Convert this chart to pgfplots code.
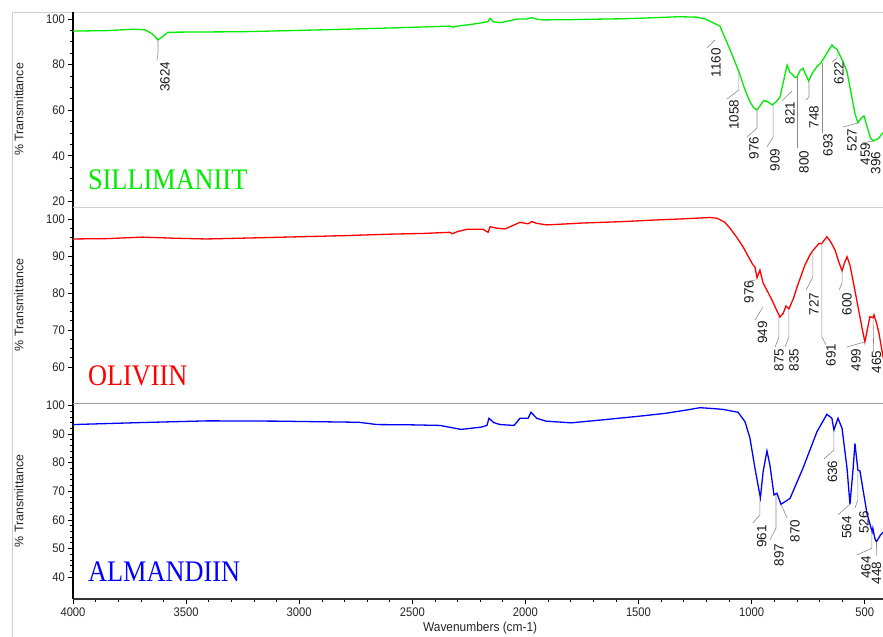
\documentclass[border=0pt]{standalone}
\usepackage{fontspec}
\setmainfont{Liberation Sans}
\newfontfamily\namefont{Liberation Serif}
\usepackage{pgfplots}
\pgfplotsset{compat=1.18}

\definecolor{silgreen}{RGB}{0,235,0}
\definecolor{olired}{RGB}{255,0,0}
\definecolor{almblue}{RGB}{0,0,255}
\definecolor{framegray}{RGB}{210,210,210}
\definecolor{sepgray}{RGB}{160,160,160}
\definecolor{leadgray}{RGB}{140,140,140}

\tikzset{
  peak/.style={rotate=90, font=\fontsize{13.5}{13.5}\selectfont, inner sep=0pt, text=black!90},
  lead/.style={draw=leadgray, line width=0.6bp},
  sample/.style={anchor=base west, inner sep=0pt, xscale=0.88,
    font=\namefont\fontsize{30}{30}\selectfont},
}

\pgfplotsset{
  irpanel/.style={
    scale only axis,
    width=814.3bp,
    xmin=400, xmax=4000,
    x dir=reverse,
    axis y line*=left,
    y axis line style={line width=1.7bp, black},
    tick align=outside,
    major tick length=5bp,
    minor tick length=3bp,
    every tick/.style={black, line width=0.6bp},
    ytick pos=left,
    tick label style={font=\fontsize{12.5}{13}\selectfont, text=black!85, xscale=0.9},
    /pgf/number format/assume math mode=true,
    /pgf/number format/1000 sep={},
    ylabel={\% Transmittance},
    ylabel style={at={(axis description cs:-0.0663,0.5)}, anchor=center,
      font=\fontsize{12.5}{12.5}\selectfont, text=black!85},
    every axis plot/.append style={line width=1.3bp, no markers},
  },
}

\begin{document}
\begin{tikzpicture}
\useasboundingbox (0bp,0bp) rectangle (883bp,-637bp);
\clip (0bp,0bp) rectangle (883bp,-637bp);

% outer frame
\draw[framegray, line width=0.8bp] (12bp,-637bp) -- (12bp,-12bp) -- (883bp,-12bp);

% ---------------- Sillimaniit ----------------
\begin{axis}[irpanel,
  at={(73bp,-207bp)}, anchor=south west,
  height=195bp,
  axis x line=none,
  ymin=17.54, ymax=103.07,
  ytick={20,40,60,80,100},
  minor y tick num=3,
]
\addplot[silgreen] coordinates {
(4000,94.7) (3850,94.9) (3735,95.5) (3682,95.3) (3650,93.5) (3624,90.8)
(3600,92.6) (3580,94.2) (3450,94.3) (3262,94.4) (3000,95.0) (2800,95.5)
(2585,96.1) (2450,96.5) (2333,96.9) (2320,96.4) (2300,96.9) (2250,97.5)
(2187,98.4) (2165,98.9) (2156,100.3) (2143,98.8) (2112,98.4) (2070,99.2)
(2037,100) (1993,100) (1971,100.6) (1949,99.9) (1922,99.6) (1800,99.7)
(1700,99.9) (1568,100.1) (1450,100.5) (1347,100.9) (1317,101) (1241,100.8)
(1206,100) (1171,98.4) (1140,96.9) (1095,86.5) (1056,76.9) (1029,68.9)
(1007,63.7) (990,61.0) (976,60.1) (958,62.6) (945,64.3) (925,63.5)
(909,62.3) (890,63.8) (874,65.9) (843,79.8) (830,76.5) (821,75.9)
(810,74.5) (800,74.4) (785,77.5) (773,78.4) (760,75.5) (748,72.8)
(730,76.5) (711,79.1) (693,80.8) (667,85.0) (645,88.6) (633,87.4)
(622,86.7) (596,81.3) (578,76.9) (560,67.4) (543,58.6) (530,54.5)
(515,56.5) (503,57.5) (490,53.0) (475,48.0) (463,46.5) (440,47.5)
(419,50.1) (400,49.0)
};
\node[sample, text=silgreen] at (axis cs:3934,25.0) {SILLIMANIIT};
% peak annotations
\draw[lead] (axis cs:3624,90.8) -- (axis cs:3624,85.1) -- (axis cs:3629,82.0);
\node[peak] at (axis cs:3593,74.6) {3624};
\draw[lead] (axis cs:1162,90.8) -- (axis cs:1197,87.3);
\node[peak] at (axis cs:1157,80.9) {1160};
\draw[lead] (axis cs:1056,76.8) -- (axis cs:1056,68.9) -- (axis cs:1109,64.9);
\node[peak] at (axis cs:1078,57.9) {1058};
\draw[lead] (axis cs:976,60.1) -- (axis cs:976,52.2) -- (axis cs:1020,48.2);
\node[peak] at (axis cs:989,43.4) {976};
\draw[lead] (axis cs:905,62.3) -- (axis cs:905,48.2) -- (axis cs:932,43.9);
\node[peak] at (axis cs:896,38.2) {909};
\draw[lead] (axis cs:821,68.4) -- (axis cs:866,64.0);
\node[peak] at (axis cs:830,58.8) {821};
\draw[lead] (axis cs:799,74.4) -- (axis cs:799,43.4);
\node[peak] at (axis cs:768,37.3) {800};
\draw[lead] (axis cs:746,72.8) -- (axis cs:746,65.8) -- (axis cs:760,64.5);
\node[peak] at (axis cs:724,57.0) {748};
\draw[lead] (axis cs:689,80.7) -- (axis cs:689,50.0);
\node[peak] at (axis cs:662,44.7) {693};
\draw[lead] (axis cs:622,86.8) -- (axis cs:622,82.9) -- (axis cs:645,81.1);
\node[peak] at (axis cs:613,76.3) {622};
\draw[lead] (axis cs:530,54.4) -- (axis cs:596,52.6);
\node[peak] at (axis cs:556,46.9) {527};
\draw[lead] (axis cs:463,46.5) -- (axis cs:512,45.6);
\node[peak] at (axis cs:497,40.8) {459};
\node[peak] at (axis cs:451,36.8) {396};
\end{axis}

% ---------------- Oliviin ----------------
\begin{axis}[irpanel,
  at={(73bp,-403bp)}, anchor=south west,
  height=196bp,
  axis x line=none,
  ymin=50.27, ymax=103.24,
  ytick={60,70,80,90,100},
  minor y tick num=3,
]
\addplot[olired] coordinates {
(4000,94.6) (3850,94.7) (3691,95.1) (3550,94.8) (3412,94.6) (3262,94.8)
(2996,95.2) (2800,95.5) (2599,95.9) (2450,96.1) (2333,96.4) (2324,96.0)
(2300,96.6) (2258,97.2) (2187,97.2) (2165,96.4) (2156,97.9) (2125,97.5)
(2090,97.3) (2024,99.1) (1988,98.7) (1971,99.3) (1949,98.8) (1904,98.4)
(1750,98.9) (1568,99.3) (1400,99.8) (1317,100) (1184,100.4) (1153,100.2)
(1120,99.2) (1095,97.5) (1065,95.0) (1038,92.5) (994,87.6) (985,87.0)
(976,84.1) (963,86.2) (949,82.7) (930,80.5) (910,78.1) (875,73.5)
(860,74.5) (848,76.5) (835,75.7) (815,78.5) (799,81.6) (764,87.6)
(740,90.5) (727,91.6) (702,93.4) (691,93.3) (667,95.2) (650,93.8)
(631,91.6) (615,88.5) (600,86.0) (590,88.0) (578,89.8) (565,87.5)
(552,83.5) (521,73.6) (510,70.0) (499,66.8) (487,70.5) (477,73.6)
(463,73.3) (459,74.1) (448,72.0) (437,69.2) (419,62.8) (400,57.0)
};
\node[sample, text=olired] at (axis cs:3934,55.1) {OLIVIIN};
\draw[lead] (axis cs:985,83.5) -- (axis cs:1029,83.0);
\node[peak] at (axis cs:1011,80.3) {976};
\draw[lead] (axis cs:950,76.2) -- (axis cs:985,72.7);
\node[peak] at (axis cs:952,69.3) {949};
\draw[lead] (axis cs:879,73.5) -- (axis cs:879,68.1) -- (axis cs:896,65.4);
\node[peak] at (axis cs:879,61.9) {875};
\draw[lead] (axis cs:835,75.7) -- (axis cs:835,68.1) -- (axis cs:852,65.4);
\node[peak] at (axis cs:812,61.9) {835};
\draw[lead] (axis cs:729,91.6) -- (axis cs:729,84.3) -- (axis cs:759,80.8);
\node[peak] at (axis cs:724,77.0) {727};
\draw[lead] (axis cs:689,93.5) -- (axis cs:689,68.1) -- (axis cs:671,66.0);
\node[peak] at (axis cs:649,63.2) {691};
\draw[lead] (axis cs:600,86.2) -- (axis cs:600,82.7) -- (axis cs:613,80.8);
\node[peak] at (axis cs:578,77.0) {600};
\draw[lead] (axis cs:499,66.8) -- (axis cs:578,65.4);
\node[peak] at (axis cs:538,61.9) {499};
\draw[lead] (axis cs:463,73.2) -- (axis cs:460,64.1);
\node[peak] at (axis cs:448,61.4) {465};
\end{axis}

% ---------------- Almandiin ----------------
\begin{axis}[irpanel,
  at={(73bp,-599bp)}, anchor=south west,
  height=196bp,
  axis x line*=bottom,
  x axis line style={line width=1.7bp, black!80},
  xtick pos=bottom,
  ymin=32.31, ymax=100.84,
  ytick={40,50,60,70,80,90,100},
  minor y tick num=4,
  xtick={500,1000,...,4000},
  minor x tick num=4,
  xlabel={Wavenumbers (cm-1)},
  xlabel style={at={(axis description cs:0.5,-0.148)}, anchor=center,
    font=\fontsize{13}{13}\selectfont, text=black!85, xscale=0.92},
]
\addplot[almblue] coordinates {
(4000,93.3) (3700,94.0) (3403,94.6) (3100,94.5) (2736,94.1) (2656,93.3)
(2500,93.2) (2378,93.0) (2330,92.3) (2285,91.6) (2196,92.4) (2170,93.0)
(2161,95.5) (2140,94.0) (2112,93.3) (2050,93.0) (2024,95.5) (1988,95.5)
(1975,97.6) (1950,95.5) (1909,94.5) (1798,93.9) (1652,95.0) (1500,96.2)
(1383,97.2) (1294,98.3) (1228,99.2) (1171,98.9) (1126,98.6) (1060,97.6)
(1029,94.3) (1007,88.5) (985,78.0) (961,67.7) (949,76.8) (932,84.1)
(919,79.2) (901,68.7) (888,69.3) (870,65.4) (830,67.5) (773,78.0)
(711,90.8) (667,96.9) (645,95.5) (636,91.4) (618,95.5) (600,92.0)
(578,78.0) (565,65.4) (551,78.0) (543,86.7) (530,77.4) (521,77.1)
(490,62.3) (467,55.8) (464,57.0) (455,53.5) (448,52.3) (430,54.7)
(400,57.0)
};
\node[sample, text=almblue] at (axis cs:3934,38.6) {ALMANDIIN};
\draw[lead] (axis cs:636,91.4) -- (axis cs:636,84.4) -- (axis cs:680,81.3);
\node[peak] at (axis cs:642,76.8) {636};
\draw[lead] (axis cs:963,68.0) -- (axis cs:963,61.7) -- (axis cs:994,58.9);
\node[peak] at (axis cs:955,54.1) {961};
\draw[lead] (axis cs:892,68.7) -- (axis cs:892,57.1) -- (axis cs:919,52.9);
\node[peak] at (axis cs:879,47.7) {897};
\draw[lead] (axis cs:870,65.5) -- (axis cs:843,60.6);
\node[peak] at (axis cs:808,56.1) {870};
\draw[lead] (axis cs:565,65.5) -- (axis cs:618,61.7);
\node[peak] at (axis cs:579,57.3) {564};
\draw[lead] (axis cs:530,77.4) -- (axis cs:530,66.9) -- (axis cs:543,64.1);
\node[peak] at (axis cs:503,59.1) {526};
\draw[lead] (axis cs:468,56.4) -- (axis cs:468,50.1) -- (axis cs:534,47.7);
\node[peak] at (axis cs:494,43.3) {464};
\draw[lead] (axis cs:448,52.3) -- (axis cs:447,47.5);
\node[peak] at (axis cs:448,41.4) {448};
\end{axis}

% panel separators
\draw[framegray, line width=0.8bp] (73bp,-207bp) -- (883bp,-207bp);
\draw[sepgray, line width=0.8bp] (73bp,-403bp) -- (883bp,-403bp);
\end{tikzpicture}
\end{document}
